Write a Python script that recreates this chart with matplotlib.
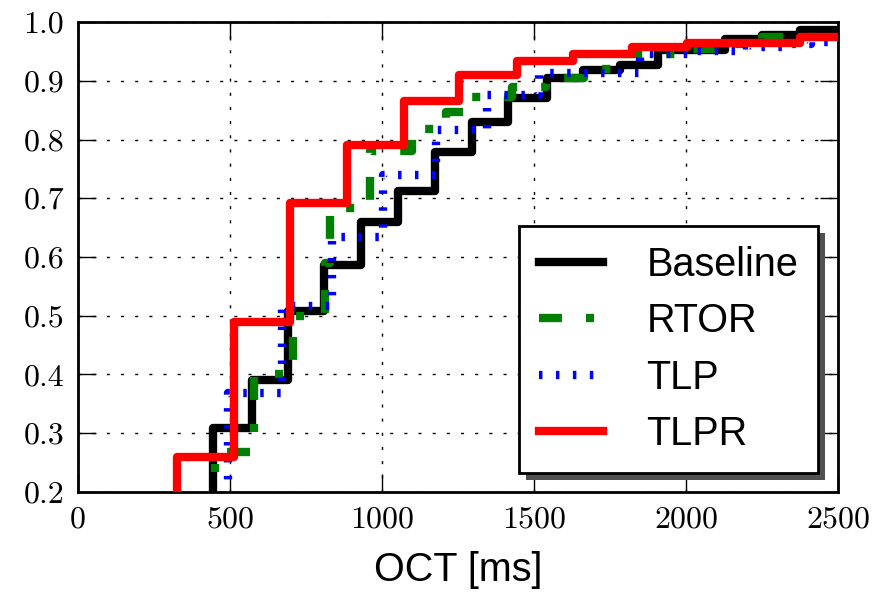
import numpy as np
import matplotlib
matplotlib.use("Agg")
import matplotlib.pyplot as plt

# CDF step points (OCT in ms, cumulative fraction)
baseline_x = [0, 444, 572, 691, 808, 932, 1053, 1174, 1296, 1416, 1542, 1661, 1783, 1907, 2128, 2250, 2375, 2600]
baseline_y = [0.0, 0.309, 0.39, 0.508, 0.586, 0.66, 0.713, 0.779, 0.83, 0.871, 0.905, 0.918, 0.927, 0.952, 0.972, 0.978, 0.986, 0.986]

rtor_x = [0, 451, 579, 707, 812, 830, 960, 1099, 1210, 1296, 1428, 1541, 1665, 1790, 2010, 2130, 2250, 2600]
rtor_y = [0.0, 0.268, 0.40, 0.50, 0.59, 0.683, 0.78, 0.818, 0.847, 0.872, 0.889, 0.905, 0.92, 0.945, 0.955, 0.963, 0.975, 0.975]

tlp_x = [0, 494, 671, 835, 1003, 1178, 1345, 1516, 1849, 2010, 2200, 2330, 2410, 2600]
tlp_y = [0.0, 0.369, 0.516, 0.634, 0.739, 0.816, 0.876, 0.914, 0.945, 0.951, 0.957, 0.962, 0.966, 0.966]

tlpr_x = [0, 326, 514, 699, 886, 1072, 1254, 1444, 1628, 1822, 2003, 2375, 2600]
tlpr_y = [0.0, 0.26, 0.49, 0.692, 0.79, 0.866, 0.91, 0.933, 0.946, 0.958, 0.965, 0.974, 0.974]

labels = ["Baseline", "RTOR", "TLP", "TLPR"]
xticks = [0, 500, 1000, 1500, 2000, 2500]
yticks = [0.2, 0.3, 0.4, 0.5, 0.6, 0.7, 0.8, 0.9, 1.0]

plt.rcParams['lines.scale_dashes'] = False
plt.rcParams['font.family'] = ['Liberation Sans', 'DejaVu Sans']

fig = plt.figure(figsize=(8.84, 5.97), dpi=100)
ax = fig.add_axes([0.0882, 0.176, 0.948 - 0.0882, 0.963 - 0.176])

lw = 6
ax.step(baseline_x, baseline_y, where='post', color='black', lw=lw, label=labels[0], zorder=3)
ax.step(rtor_x, rtor_y, where='post', color='green', lw=lw, label=labels[1], zorder=3,
        linestyle=(0, (16.5, 17.3, 5.8, 17.3)), dash_capstyle='butt')
ax.step(tlp_x, tlp_y, where='post', color='blue', lw=lw, label=labels[2], zorder=3,
        linestyle=(0, (2.5, 9.7)), dash_capstyle='butt')
ax.step(tlpr_x, tlpr_y, where='post', color='red', lw=lw, label=labels[3], zorder=3)

ax.set_xlim(0, 2500)
ax.set_ylim(0.2, 1.0)
ax.set_xticks(xticks)
ax.set_xticklabels([str(t) for t in xticks])
ax.set_yticks(yticks)
ax.set_yticklabels(["%.1f" % t for t in yticks])

# classic look: inward ticks on every side, dotted black grid
ax.tick_params(direction='in', length=13, width=1, top=True, right=True,
               labelsize=23, labelfontfamily='cmr10', pad=10)
ax.grid(True, color='black', lw=1.0, linestyle=(0, (2.2, 8)), zorder=1)
ax.set_axisbelow(True)
for sp in ax.spines.values():
    sp.set_linewidth(2)

ax.set_xlabel("OCT [ms]", fontsize=28.5, labelpad=13)

leg = ax.legend(loc='lower right', bbox_to_anchor=(0.974, 0.040), borderaxespad=0,
                fontsize=28.5, handlelength=1.62, handletextpad=1.1, borderpad=0.5,
                labelspacing=0.47, fancybox=False, framealpha=1, edgecolor='black',
                shadow={'ox': 5, 'oy': -5, 'facecolor': '#505050', 'edgecolor': 'none', 'alpha': 1})
leg.get_frame().set_linewidth(2)

fig.savefig("out.png", dpi=100)
